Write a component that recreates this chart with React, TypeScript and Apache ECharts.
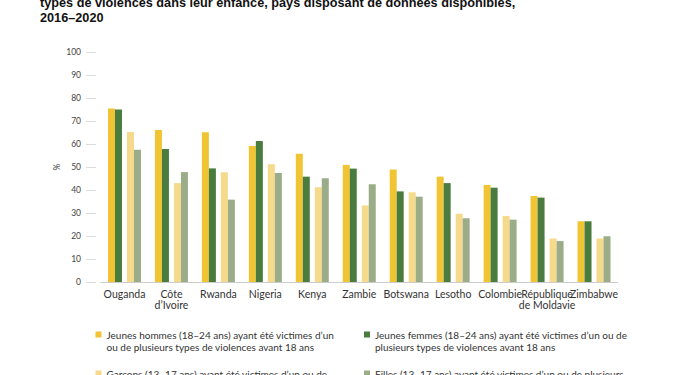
import React, { useEffect, useRef } from "react";
import * as echarts from "echarts";

const categories = [
  "Ouganda",
  "Côte\nd’Ivoire",
  "Rwanda",
  "Nigeria",
  "Kenya",
  "Zambie",
  "Botswana",
  "Lesotho",
  "Colombie",
  "République\nde Moldavie",
  "Zimbabwe",
];

const jeunesHommes = [75.4, 66.1, 65.1, 59.1, 55.8, 50.9, 48.9, 45.8, 42.2, 37.4, 26.4];
const jeunesFemmes = [75.0, 57.8, 49.4, 61.3, 45.8, 49.3, 39.4, 43.0, 41.0, 36.7, 26.4];
const garcons = [65.2, 43.0, 47.7, 51.2, 41.2, 33.3, 39.0, 29.7, 28.7, 18.9, 18.9];
const filles = [57.5, 47.8, 35.8, 47.4, 45.1, 42.5, 37.1, 27.7, 27.1, 17.8, 19.9];

const seriesNames = [
  "Jeunes hommes (18–24 ans) ayant été victimes d’un\nou de plusieurs types de violences avant 18 ans",
  "Jeunes femmes (18–24 ans) ayant été victimes d’un ou de\nplusieurs types de violences avant 18 ans",
  "Garçons (13–17 ans) ayant été victimes d’un ou de\nplusieurs types de violences avant 18 ans",
  "Filles (13–17 ans) ayant été victimes d’un ou de plusieurs\ntypes de violences avant 18 ans",
];

const titleLines = [
  "types de violences dans leur enfance, pays disposant de données disponibles,",
  "2016–2020",
];

const colors = ["#F0C432", "#4A7C3F", "#F6DA8C", "#9BAD88"];

const FONT = "Lato, 'Noto Sans', sans-serif";

export default function App() {
  const ref = useRef<HTMLDivElement>(null);

  useEffect(() => {
    if (!ref.current) return;
    const chart = echarts.init(ref.current, undefined, { renderer: "svg" });

    const iconPos = [
      { left: 95.5, top: 331.5 },
      { left: 364, top: 331.5 },
      { left: 95.5, top: 370.5 },
      { left: 364, top: 370.5 },
    ];

    // square at the top of a tall icon box so it lines up with the first text line
    const squareIcon = "path://M0 0H6V6H0Z M0 18H0.01V18.01H0Z";

    const legends = seriesNames.map((name, i) => ({
      data: [name],
      left: iconPos[i].left,
      top: iconPos[i].top - 3,
      padding: 0,
      icon: squareIcon,
      itemWidth: 6,
      itemHeight: 18,
      itemGap: 0,
      selectedMode: false,
      textStyle: {
        fontFamily: FONT,
        fontSize: 10,
        color: "#333",
        lineHeight: 12,
      },
    }));

    const mkBar = (name: string, data: (number | string)[], color: string) => ({
      name,
      type: "bar",
      data,
      barWidth: 7,
      barGap: 0,
      itemStyle: { color },
    });

    chart.setOption({
      animation: false,
      textStyle: { fontFamily: FONT },
      title: {
        text: titleLines.join("\n"),
        left: 40,
        top: -5,
        padding: 0,
        textStyle: {
          fontFamily: "'Liberation Sans', Arial, sans-serif",
          fontSize: 12.7,
          fontWeight: "bold",
          color: "#111",
          lineHeight: 15,
        },
      },
      legend: legends,
      grid: { left: 101, right: 57.5, top: 52, bottom: 93, containLabel: false },
      xAxis: {
        type: "category",
        data: categories,
        axisLine: { show: true, lineStyle: { color: "#cccccc", width: 1 } },
        axisTick: { show: false },
        axisLabel: {
          interval: 0,
          fontFamily: FONT,
          fontSize: 10.5,
          color: "#333",
          margin: 6,
          lineHeight: 11,
        },
      },
      yAxis: {
        type: "value",
        min: 0,
        max: 100,
        interval: 10,
        offset: 5,
        name: "%",
        nameLocation: "middle",
        nameGap: 35,
        nameMoveOverlap: false,
        nameRotate: 90,
        nameTextStyle: { fontFamily: FONT, fontSize: 8.5, color: "#444" },
        axisLine: { show: false },
        axisTick: { show: true, length: 10, lineStyle: { color: "#dddddd" } },
        splitLine: { show: false },
        axisLabel: { fontFamily: FONT, fontSize: 8.5, color: "#444", margin: 15 },
      },
      series: [
        mkBar(seriesNames[0], jeunesHommes, colors[0]),
        mkBar(seriesNames[1], jeunesFemmes, colors[1]),
        {
          name: "spacer",
          type: "bar",
          data: categories.map(() => "-"),
          barWidth: 5,
          barGap: 0,
          silent: true,
        },
        mkBar(seriesNames[2], garcons, colors[2]),
        mkBar(seriesNames[3], filles, colors[3]),
      ],
    });

    return () => chart.dispose();
  }, []);

  return (
    <div
      ref={ref}
      style={{ position: "absolute", left: 0, top: 0, width: 675, height: 375, background: "#fff" }}
    />
  );
}
